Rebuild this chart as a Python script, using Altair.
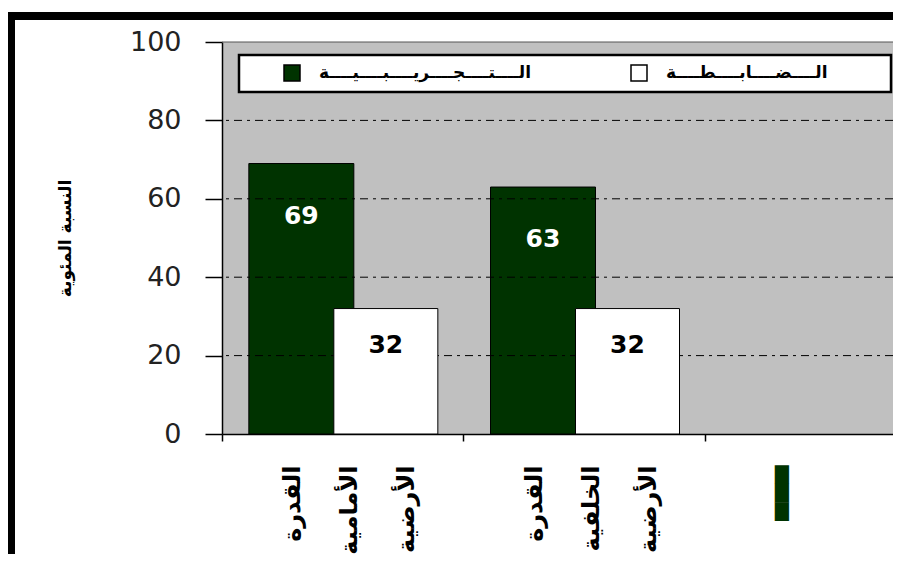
import altair as alt
import pandas as pd

# ---- data ----
categories = ["القدرة|الأمامية|الأرضية", "القدرة|الخلفية|الأرضية", "▄▄▄||"]
groups = ["التجريبية", "الضابطة"]
experimental = [69, 63]
control = [32, 32]
legend_labels = ["الــــتــــجــــريــــبــــيــــة", "الــــضــــابــــطــــة"]
y_ticks = [0, 20, 40, 60, 80, 100]
grid_values = [20, 40, 60, 80]
top_value = [100]
y_title = "النسبة المئوية"

df = pd.DataFrame({
    "category": categories[:2] * 2,
    "group": [groups[0]] * 2 + [groups[1]] * 2,
    "value": experimental + control,
})

FONT = "DejaVu Sans"
GREEN = "#003300"

legend_expr = (
    f"datum.label == '{groups[0]}' ? '{legend_labels[0]}' : '{legend_labels[1]}'"
)

x_enc = alt.X(
    "category:N",
    scale=alt.Scale(domain=categories, range=[0, 725], paddingInner=0, paddingOuter=0),
    axis=alt.Axis(
        title=None,
        bandPosition=0,
        labelAngle=-90,
        labelAlign="right",
        labelBaseline="middle",
        labelExpr="split(datum.label, '|')",
        labelFont=FONT,
        labelFontSize=24,
        labelFontWeight="bold",
        labelColor={"condition": {"test": "indexof(datum.value, '▄') >= 0", "value": GREEN}, "value": "black"},
        labelLineHeight=57,
        labelOffset=-50,
        labelPadding=24,
        labelLimit=0,
        labelOverlap=False,
        tickSize=7,
        tickColor="black",
        tickWidth=1.5,
        domainColor="black",
        domainWidth=1.5,
        grid=False,
    ),
)

y_enc = alt.Y(
    "value:Q",
    scale=alt.Scale(domain=[0, 100]),
    axis=alt.Axis(
        values=y_ticks,
        title=y_title,
        titleFont=FONT,
        titleFontSize=17,
        titleFontWeight="bold",
        titleColor="black",
        titleX=-148,
        titleY=196,
        labelFont=FONT,
        labelFontSize=27,
        labelColor="#222222",
        labelPadding=24,
        tickSize=17,
        tickColor="black",
        tickWidth=1.5,
        domainColor="black",
        domainWidth=1.5,
        grid=False,
    ),
)

color_enc = alt.Color(
    "group:N",
    scale=alt.Scale(domain=groups, range=[GREEN, "#FFFFFF"]),
    legend=alt.Legend(
        title=None,
        orient="none",
        legendX=61,
        legendY=22,
        direction="horizontal",
        padding=0,
        symbolType="square",
        symbolSize=256,
        symbolStrokeColor="black",
        symbolStrokeWidth=1.5,
        labelOffset=18,
        labelFont=FONT,
        labelFontSize=17,
        labelFontWeight="bold",
        labelColor="black",
        labelExpr=legend_expr,
        labelLimit=0,
        columnPadding=96,
    ),
)

frame = alt.Chart(pd.DataFrame({"k": [0]})).mark_rect(
    fill="transparent", stroke="black", strokeWidth=8
).encode(
    x=alt.value(-211), x2=alt.value(720), y=alt.value(-26), y2=alt.value(560)
)

legend_box = alt.Chart(pd.DataFrame({"k": [0]})).mark_rect(
    fill="white", stroke="black", strokeWidth=2.5
).encode(
    x=alt.value(17), x2=alt.value(669), y=alt.value(13), y2=alt.value(50)
)

grid = alt.Chart(pd.DataFrame({"g": grid_values})).mark_rule(
    color="black", strokeWidth=1, strokeDash=[8, 5, 3, 5]
).encode(y=alt.Y("g:Q"))

top = alt.Chart(pd.DataFrame({"g": top_value})).mark_rule(
    color="#555555", strokeWidth=1
).encode(y=alt.Y("g:Q"))

base = alt.Chart(df).encode(x=x_enc, y=y_enc)

bars_exp = base.transform_filter(alt.datum.group == groups[0]).mark_bar(
    size=105, xOffset=-41.5, stroke="black", strokeWidth=1
).encode(color=color_enc)

bars_ctl = base.transform_filter(alt.datum.group == groups[1]).mark_bar(
    size=104, xOffset=43, stroke="black", strokeWidth=1
).encode(color=color_enc)

text_exp = base.transform_filter(alt.datum.group == groups[0]).mark_text(
    xOffset=-41.5, dy=52, baseline="middle", align="center",
    font=FONT, fontSize=25, fontWeight="bold", color="white"
).encode(text="value:Q")

text_ctl = base.transform_filter(alt.datum.group == groups[1]).mark_text(
    xOffset=43, dy=36, baseline="middle", align="center",
    font=FONT, fontSize=25, fontWeight="bold", color="black"
).encode(text="value:Q")

chart = alt.layer(
    bars_exp, grid, top, bars_ctl, text_exp, text_ctl, legend_box, frame
).properties(
    width=671,
    height=392,
    padding={"left": 214, "top": 34, "right": 0, "bottom": 120},
    autosize=alt.AutoSizeParams(type="none"),
    background="white",
).configure_view(
    fill="#C0C0C0", strokeWidth=0
)

chart.save("out.html", embed_options={"renderer": "svg", "actions": False})
